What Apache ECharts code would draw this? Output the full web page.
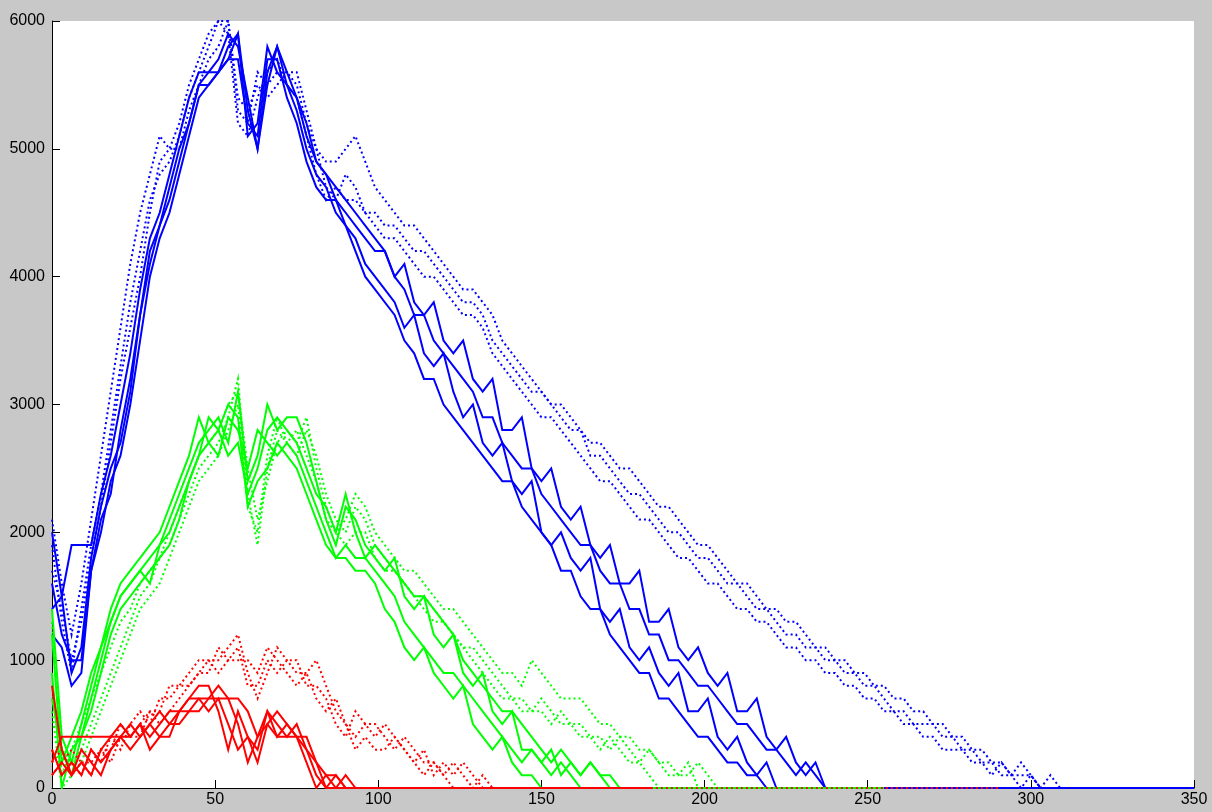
<!DOCTYPE html>
<html>
<head>
<meta charset="utf-8">
<script src="https://cdn.jsdelivr.net/npm/echarts@6/dist/echarts.min.js"></script>
<style>
html,body{margin:0;padding:0;background:#c8c8c8;}
#chart{width:1212px;height:812px;}
</style>
</head>
<body>
<div id="chart"></div>
<script>
// Sample spacing along x (one value every STEP units, starting at x = 0)
const STEP = 3;
const xTicks = [0, 50, 100, 150, 200, 250, 300, 350];
const yTicks = [0, 1000, 2000, 3000, 4000, 5000, 6000];

// Blue, solid
const blueSolid1 = [2000,1500,900,1100,1800,2200,2500,2700,3100,3700,4100,4400,4700,5000,5200,5500,5600,5600,5800,5900,5300,5000,5600,5800,5500,5300,5000,4800,4700,4500,4400,4300,4100,4000,3900,3800,3600,3700,3400,3300,3400,3100,2900,3000,2700,2600,2700,2400,2300,2400,2000,1900,2000,1800,1700,1800,1400,1300,1400,1100,1000,1100,900,800,900,600,600,700,400,300,400,200,100,200,0];
const blueSolid2 = [1600,1200,1000,1000,1700,2000,2400,2600,3000,3500,4000,4300,4500,4800,5100,5400,5500,5600,5700,5700,5200,5100,5700,5700,5400,5200,4900,4700,4600,4600,4400,4200,4000,3900,3800,3700,3500,3400,3200,3200,3000,2900,2800,2700,2600,2500,2400,2400,2200,2100,2000,1900,1700,1700,1500,1400,1400,1200,1100,1000,900,900,700,700,600,500,400,400,300,200,200,100,100,0];
const blueSolid3 = [1400,1500,1900,1900,1900,2300,2600,3000,3400,3900,4300,4500,4800,5100,5400,5600,5600,5700,5900,5800,5400,5000,5500,5800,5600,5400,5100,4900,4800,4700,4600,4500,4400,4300,4200,4000,4100,3800,3700,3800,3500,3400,3500,3200,3100,3200,2800,2800,2900,2500,2400,2500,2200,2100,2200,1900,1800,1900,1600,1600,1700,1300,1300,1400,1100,1000,1100,900,800,900,600,600,700,400,300,400,200,100,200,0];
const blueSolid4 = [1200,1100,800,900,1700,2100,2300,2800,3200,3700,4200,4400,4600,4900,5200,5500,5500,5600,5700,5900,5100,5200,5800,5600,5500,5400,5200,4900,4800,4600,4500,4400,4300,4200,4200,4000,3900,3700,3700,3500,3400,3300,3200,3100,2900,2900,2700,2600,2500,2500,2300,2200,2100,2000,1900,1900,1700,1600,1600,1400,1400,1200,1200,1000,1000,900,800,800,700,600,500,500,400,300,300,200,100,200,100,0,0];

// Blue, dotted
const blueDotted1 = [2100,1600,1200,1600,2100,2600,3100,3600,4100,4500,4800,5100,5000,5200,5500,5700,5900,6000,6000,5300,5200,5600,5500,5600,5600,5500,5200,5000,4900,4900,5000,5100,4900,4700,4600,4500,4400,4400,4300,4200,4100,4000,3900,3900,3800,3700,3500,3400,3300,3200,3100,3000,3000,2900,2800,2700,2700,2600,2500,2500,2400,2300,2200,2200,2100,2000,1900,1900,1800,1700,1600,1600,1500,1400,1400,1300,1300,1200,1100,1100,1000,1000,900,900,800,800,700,700,600,600,500,500,400,400,300,300,200,200,100,100,100,0,100,0];
const blueDotted2 = [1900,1300,900,1400,1900,2300,2800,3300,3800,4200,4600,4800,4900,5100,5400,5600,5800,6000,5900,5200,5100,5400,5600,5700,5500,5400,5100,4800,4600,4700,4600,4600,4500,4400,4300,4300,4200,4100,4000,4000,3900,3800,3700,3700,3600,3400,3300,3200,3100,3000,2900,2900,2800,2700,2600,2500,2400,2400,2300,2200,2100,2100,2000,1900,1800,1800,1700,1600,1600,1500,1400,1400,1300,1300,1200,1100,1100,1000,1000,900,900,800,800,700,700,600,600,500,500,400,400,300,300,300,200,200,100,200,100,0,100,0];
const blueDotted3 = [1700,1400,1000,1300,1800,2200,2700,3200,3600,4000,4500,4900,5000,5000,5300,5500,5700,5800,6000,5400,5300,5500,5400,5500,5600,5600,5300,5000,4700,4600,4800,4700,4500,4500,4400,4400,4300,4200,4200,4100,4000,3900,3800,3800,3700,3500,3400,3300,3200,3100,3100,3000,2900,2800,2800,2600,2600,2500,2400,2300,2300,2200,2100,2000,2000,1900,1800,1800,1700,1600,1600,1500,1400,1400,1300,1200,1200,1100,1100,1000,1000,900,900,800,800,700,600,600,500,500,500,400,400,300,300,200,200,100,100,200,100,0];

// Green, solid
const greenSolid1 = [1400,400,200,500,800,1100,1300,1500,1600,1700,1800,1900,2100,2300,2500,2700,2800,2900,2700,3100,2400,2600,3000,2800,2900,2900,2700,2400,2100,1900,2200,2100,1900,1800,1700,1800,1500,1400,1500,1200,1100,1200,900,800,900,600,500,600,300,300,200,300,100,200,100,200,100,0];
const greenSolid2 = [1200,200,400,600,900,1100,1400,1600,1700,1800,1900,2000,2200,2400,2600,2900,2700,2600,2900,2800,2500,2800,2700,2600,2700,2600,2400,2200,2000,1800,1900,1800,1800,1700,1600,1500,1300,1200,1100,1000,900,900,800,700,600,500,400,300,200,300,200,100,200,100,0];
const greenSolid3 = [900,0,300,400,600,900,1200,1400,1500,1600,1700,1800,1900,2100,2400,2600,2900,2800,2600,2700,2300,2500,2800,2900,2800,2700,2500,2300,2200,2000,2300,2000,1800,1900,1800,1700,1600,1500,1500,1400,1300,1200,1000,900,800,700,600,600,500,400,300,200,300,200,100,200,100,100,0];
const greenSolid4 = [700,300,100,400,700,1000,1300,1500,1600,1700,1600,1900,2000,2200,2400,2600,2700,2800,3000,2900,2200,2400,2500,2700,2600,2500,2300,2100,1900,1800,1800,1700,1700,1600,1400,1300,1100,1000,1100,900,800,700,800,500,400,300,400,200,100,100,0];

// Green, dotted
const greenDotted1 = [1300,300,200,300,500,700,900,1100,1300,1500,1600,1800,1900,2100,2300,2500,2600,2700,2900,3200,2300,1900,2500,2800,2700,2600,2800,2600,2300,2100,2000,2200,2100,1900,1800,1700,1600,1500,1500,1400,1300,1200,1100,1100,1000,900,800,700,700,600,600,500,600,500,500,400,400,300,400,300,200,300,200,100,100,200,0];
const greenDotted2 = [800,100,300,500,700,900,1100,1300,1400,1600,1700,1800,2000,2200,2400,2600,2700,2800,3000,3100,2500,2100,2400,2700,2800,2700,2900,2500,2200,2000,2100,2300,2200,2000,1900,1800,1700,1700,1600,1500,1400,1400,1300,1200,1100,1000,900,900,800,1000,900,800,700,700,700,600,500,500,400,400,300,300,200,200,100,100,200,100,0];
const greenDotted3 = [600,0,100,200,400,600,800,1000,1200,1400,1500,1600,1800,2000,2200,2400,2500,2600,2800,3000,2200,2000,2600,2900,2700,2800,2600,2400,2100,2000,1900,2000,2000,1800,1700,1700,1600,1500,1400,1300,1300,1200,1100,1000,900,800,700,700,600,600,700,600,500,500,400,400,300,400,300,200,200,100,0];

// Red, solid
const redSolid1 = [800,300,100,200,100,300,400,500,400,500,400,500,600,600,700,800,800,600,300,600,400,200,500,600,500,400,200,0,100,0,100,0];
const redSolid2 = [300,100,200,100,300,200,300,400,500,400,500,400,500,500,600,600,700,800,700,500,200,400,600,400,500,400,300,200,0,100,0];
const redSolid3 = [200,400,400,400,400,400,400,400,400,500,300,400,400,600,600,700,700,700,700,700,600,400,500,400,400,400,400,200,100,100,0];
const redSolid4 = [100,200,100,300,200,100,300,400,300,400,500,600,500,600,700,700,600,700,500,300,400,300,600,500,400,500,300,100,0];

// Red, dotted
const redDotted1 = [300,100,200,100,300,200,400,300,500,600,500,700,700,800,900,1000,1000,1000,1100,1200,900,700,900,1100,1000,900,900,1000,800,600,500,400,500,500,400,300,400,300,200,200,100,200,100,0,100,0];
const redDotted2 = [200,300,100,200,200,300,300,500,400,500,600,600,800,800,800,900,1000,900,1000,1100,800,800,1000,900,1000,1000,800,800,700,500,400,600,500,400,500,400,300,200,300,100,200,100,200,100,0];
const redDotted3 = [100,200,300,200,100,300,200,400,400,400,600,500,600,700,800,900,900,1100,1000,1000,1000,900,1100,1000,900,800,900,700,600,700,500,300,400,300,300,400,300,200,100,200,100,0];

// x where the last run at zero ends (line lies on y = 0 until there)
const zeroRunEnd = { blueSolid4: 350, greenSolid3: 255, redSolid4: 184, redDotted3: 290 };

const BLUE = '#0000ff', GREEN = '#00ff00', RED = '#ff0000';
const DOTS = [2, 3];

function toPoints(vals, tailEnd) {
  const pts = vals.map((v, i) => [i * STEP, v]);
  if (tailEnd !== undefined) pts.push([tailEnd, 0]);
  return pts;
}
function mk(name, vals, color, dotted) {
  return {
    name: name, type: 'line', data: toPoints(vals, zeroRunEnd[name]),
    showSymbol: false, symbol: 'none', silent: true, clip: true,
    lineStyle: { color: color, width: 2, type: dotted ? DOTS : 'solid', cap: 'butt', join: 'miter' },
    itemStyle: { color: color }
  };
}

const series = [
  mk('blueSolid1', blueSolid1, BLUE, false),
  mk('blueSolid2', blueSolid2, BLUE, false),
  mk('blueSolid3', blueSolid3, BLUE, false),
  mk('blueSolid4', blueSolid4, BLUE, false),
  mk('blueDotted1', blueDotted1, BLUE, true),
  mk('blueDotted2', blueDotted2, BLUE, true),
  mk('blueDotted3', blueDotted3, BLUE, true),
  mk('greenSolid1', greenSolid1, GREEN, false),
  mk('greenSolid2', greenSolid2, GREEN, false),
  mk('greenSolid3', greenSolid3, GREEN, false),
  mk('greenSolid4', greenSolid4, GREEN, false),
  mk('greenDotted1', greenDotted1, GREEN, true),
  mk('greenDotted2', greenDotted2, GREEN, true),
  mk('greenDotted3', greenDotted3, GREEN, true),
  mk('redDotted1', redDotted1, RED, true),
  mk('redDotted2', redDotted2, RED, true),
  mk('redDotted3', redDotted3, RED, true),
  mk('redSolid1', redSolid1, RED, false),
  mk('redSolid2', redSolid2, RED, false),
  mk('redSolid3', redSolid3, RED, false),
  mk('redSolid4', redSolid4, RED, false)
];

const plain = v => String(v);
const chart = echarts.init(document.getElementById('chart'), null, { renderer: 'canvas' });
chart.setOption({
  animation: false,
  backgroundColor: '#c8c8c8',
  grid: { left: 52, right: 18, top: 21, bottom: 24, show: true, backgroundColor: '#ffffff', borderWidth: 0, containLabel: false },
  xAxis: {
    type: 'value', min: xTicks[0], max: xTicks[xTicks.length - 1], interval: xTicks[1] - xTicks[0],
    axisLine: { show: true, onZero: false, lineStyle: { color: '#000', width: 1 } },
    axisTick: { show: true, inside: true, length: 8, lineStyle: { color: '#000' } },
    axisLabel: { color: '#000', fontFamily: 'Liberation Sans, Arial, sans-serif', fontSize: 16, margin: 4, formatter: plain },
    splitLine: { show: false }
  },
  yAxis: {
    type: 'value', min: yTicks[0], max: yTicks[yTicks.length - 1], interval: yTicks[1] - yTicks[0],
    axisLine: { show: true, onZero: false, lineStyle: { color: '#000', width: 1 } },
    axisTick: { show: true, inside: true, length: 8, lineStyle: { color: '#000' } },
    axisLabel: { color: '#000', fontFamily: 'Liberation Sans, Arial, sans-serif', fontSize: 16, margin: 7, formatter: plain },
    splitLine: { show: false }
  },
  series: series
});
</script>
</body>
</html>
